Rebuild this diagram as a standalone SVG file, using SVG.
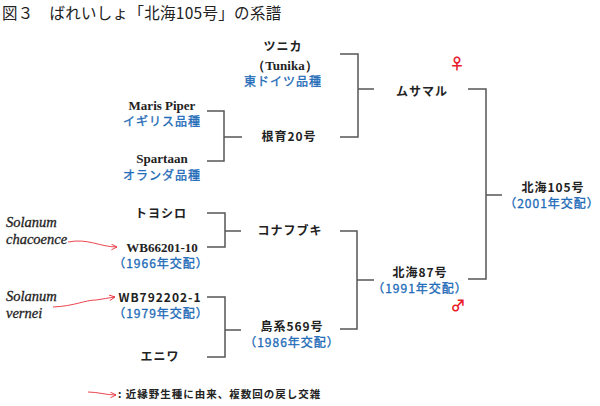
<svg xmlns="http://www.w3.org/2000/svg" width="600" height="406" viewBox="0 0 600 406">
<style>
text{font-family:"Noto Sans CJK JP","Noto Sans",sans-serif;}
.t{font-size:15.5px;fill:#222;letter-spacing:0.3px;}
.n{font-size:12px;font-weight:bold;fill:#222;text-anchor:middle;letter-spacing:1px;}
.b{font-size:12px;fill:#1f6cb8;stroke:#1f6cb8;stroke-width:0.35;text-anchor:middle;letter-spacing:1px;}
.s{font-family:"Liberation Serif",serif;font-size:13px;font-weight:bold;fill:#222;text-anchor:middle;}
.i{font-family:"Liberation Serif",serif;font-size:14.5px;font-style:italic;fill:#222;stroke:#222;stroke-width:0.3;}
.sym{font-size:15px;fill:#e8202a;text-anchor:middle;font-weight:bold;}
.l{font-size:10.5px;font-weight:bold;fill:#222;letter-spacing:1px;}
.ln{fill:none;stroke:#555;stroke-width:1.5;}
.ar{fill:none;stroke:#e8303a;stroke-width:0.9;}
</style>
<defs>
<marker id="ah" viewBox="0 0 10 10" refX="9" refY="5" markerWidth="7" markerHeight="7" orient="auto" markerUnits="userSpaceOnUse">
<path d="M1,1 L9,5 L1,9" fill="none" stroke="#e8303a" stroke-width="1.3"/>
</marker>
</defs>
<text class="t" x="2" y="19">図３　ばれいしょ「北海105号」の系譜</text>

<g id="connectors">
<path class="ln" d="M340,54 H358 V137 H340 M358,89 H374"/>
<path class="ln" d="M468,89 H486 V279 H468 M486,195 H502"/>
<path class="ln" d="M207,111 H224 V161 H207 M224,137 H242"/>
<path class="ln" d="M207,213 H225 V247 H207 M225,231 H241"/>
<path class="ln" d="M340,231 H357 V329 H340 M357,280 H374"/>
<path class="ln" d="M207,297 H225 V357 H207 M225,330 H241"/>
<path class="ar" d="M68,242 C88,238 100,247 117,247" marker-end="url(#ah)"/>
<path class="ar" d="M53,307 C75,306 85,300 96,300 C103,299 108,298 115,297" marker-end="url(#ah)"/>
<path class="ar" d="M88,392 C98,392 106,395 116,395" marker-end="url(#ah)"/>
</g>

<g id="tunika">
<text class="n" x="283" y="51">ツニカ</text>
<text class="s" x="285" y="70">（Tunika）</text>
<text class="b" x="283" y="86">東ドイツ品種</text>
</g>
<g id="maris-piper">
<text class="s" x="162" y="110">Maris Piper</text>
<text class="b" x="162" y="126">イギリス品種</text>
</g>
<g id="spartaan">
<text class="s" x="162" y="163">Spartaan</text>
<text class="b" x="162" y="180">オランダ品種</text>
</g>
<g id="konpoku20">
<text class="n" x="289" y="141">根育20号</text>
</g>
<g id="musamaru">
<text class="n" x="422" y="96">ムサマル</text>
<text class="sym" x="457" y="69">♀</text>
</g>
<g id="hokkai105">
<text class="n" x="553" y="192">北海105号</text>
<text class="b" x="552" y="208">（2001年交配）</text>
</g>
<g id="toyoshiro">
<text class="n" x="161" y="218">トヨシロ</text>
</g>
<g id="wb66201">
<text class="s" x="162" y="252">WB66201-10</text>
<text class="b" x="161" y="268">（1966年交配）</text>
</g>
<g id="konafubuki">
<text class="n" x="290" y="235">コナフブキ</text>
</g>
<g id="wb792202">
<text class="n" x="160" y="302">WB792202-1</text>
<text class="b" x="161" y="318">（1979年交配）</text>
</g>
<g id="eniwa">
<text class="n" x="160" y="361">エニワ</text>
</g>
<g id="shimakei569">
<text class="n" x="292" y="331">島系569号</text>
<text class="b" x="292" y="347">（1986年交配）</text>
</g>
<g id="hokkai87">
<text class="n" x="420" y="277">北海87号</text>
<text class="b" x="420" y="293">（1991年交配）</text>
<text class="sym" x="458" y="311">♂</text>
</g>
<g id="solanum-chacoence">
<text class="i" x="6" y="227">Solanum</text>
<text class="i" x="6" y="244">chacoence</text>
</g>
<g id="solanum-vernei">
<text class="i" x="6" y="301">Solanum</text>
<text class="i" x="6" y="318">vernei</text>
</g>
<g id="legend">
<text class="l" x="118" y="398">: 近縁野生種に由来、複数回の戻し交雑</text>
</g>
</svg>
